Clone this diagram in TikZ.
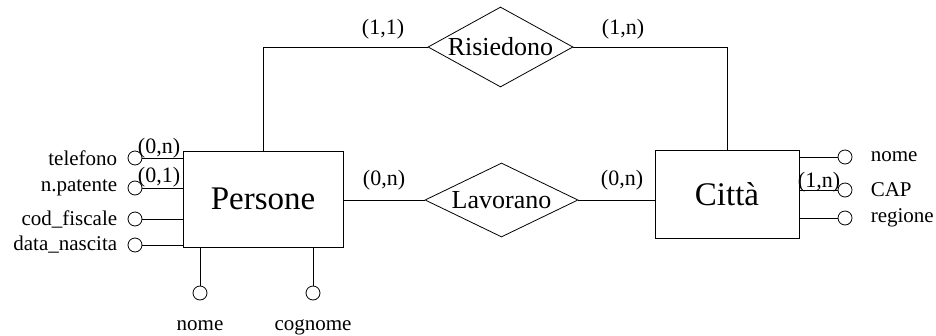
\documentclass[tikz,border=0pt]{standalone}
\usepackage{fontspec}
\setmainfont{Liberation Serif}
\usetikzlibrary{shapes.geometric,positioning}
\newcommand\erentityfont{\fontsize{33}{36}\selectfont}
\newcommand\errelfont{\fontsize{26}{30}\selectfont}
\newcommand\erattrfont{\fontsize{21}{24}\selectfont}
\newcommand\ercardfont{\fontsize{22}{24}\selectfont}

\begin{document}
\begin{tikzpicture}[x=1pt,y=-1pt,line width=0.8pt,
  erentity/.style={draw,rectangle,inner sep=0pt,font=\erentityfont},
  errel/.style={draw,diamond,inner sep=0pt},
  erreltext/.style={inner sep=0pt,font=\errelfont},
  erattr/.style={draw,circle,fill=white,inner sep=0pt,minimum size=14pt},
  erattrtext/.style={inner sep=0pt,font=\erattrfont},
  ercard/.style={inner sep=0pt,font=\ercardfont}
]
  \useasboundingbox (0,0) rectangle (936,335);
  % Entities
  \node[erentity,minimum width=160pt,minimum height=96pt] (persone) at (263,199) {Persone};
  \node[erentity,minimum width=144pt,minimum height=88pt] (citta) at (727,194) {Città};
  % Relationships
  \node[errel,minimum width=145pt,minimum height=80pt] (risiedono) at (500.5,47) {};
  \node[erreltext] (risiedonotext) at (risiedono.center) {Risiedono};
  \node[errel,minimum width=153pt,minimum height=74pt] (lavorano) at (501.5,200) {};
  \node[erreltext] (lavoranotext) at (lavorano.center) {Lavorano};
  \draw (persone.north) |- (risiedono.west);
  \draw (risiedono.east) -| (citta.north);
  \draw (lavorano.west -| persone.east) -- (lavorano.west);
  \draw (lavorano.east) -- (lavorano.east -| citta.west);
  % Attributes of Persone
  \node[erattr] (telefono) at (135,158) {};
  \node[erattr] (patente) at (135,188) {};
  \node[erattr] (codfiscale) at (135,219) {};
  \node[erattr] (datanascita) at (135,245) {};
  \node[erattrtext,left=10pt of telefono] (telefonotext) {telefono};
  \node[erattrtext,left=10pt of patente] (patentetext) {n.patente};
  \node[erattrtext,left=10pt of codfiscale] (codfiscaletext) {cod\_fiscale};
  \node[erattrtext,left=10pt of datanascita] (datanascitatext) {data\_nascita};
  \foreach \a in {telefono,patente,codfiscale,datanascita}
    \draw (\a.east) -- (\a -| persone.west);
  \node[erattr] (pnome) at (200,293) {};
  \node[erattr] (cognome) at (313,293) {};
  \node[erattrtext,anchor=base] (pnometext) at (200,330) {nome};
  \node[erattrtext,anchor=base] (cognometext) at (313,330) {cognome};
  \foreach \a in {pnome,cognome}
    \draw (\a.north) -- (\a |- persone.south);
  % Attributes of Citta
  \node[erattr] (cnome) at (845,157) {};
  \node[erattr] (cap) at (845,190) {};
  \node[erattr] (regione) at (845,218) {};
  \node[erattrtext,right=18pt of cnome] (cnometext) {nome};
  \node[erattrtext,right=18pt of cap] (captext) {CAP};
  \node[erattrtext,right=18pt of regione] (regionetext) {regione};
  \foreach \a in {cnome,cap,regione}
    \draw (\a.west) -- (\a -| citta.east);
  % Cardinalities
  \node[ercard] (card11) at (383,29) {(1,1)};
  \node[ercard] (card1n) at (623,29) {(1,n)};
  \node[ercard] (cardlavp) at (384,180) {(0,n)};
  \node[ercard] (cardlavc) at (622,180) {(0,n)};
  \node[ercard] (cardtel) at (159,148) {(0,n)};
  \node[ercard] (cardpat) at (159,177) {(0,1)};
  \node[ercard] (cardcap) at (819,182) {(1,n)};
\end{tikzpicture}
\end{document}
